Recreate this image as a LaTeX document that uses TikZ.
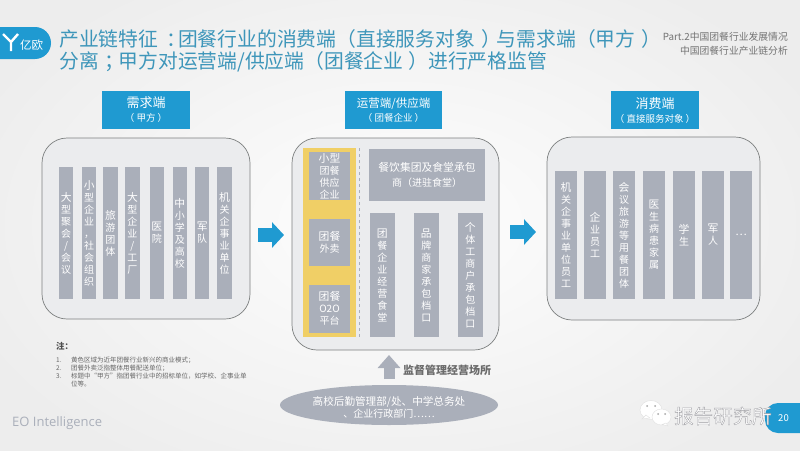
\documentclass[tikz,border=0pt]{standalone}
\usepackage{fontspec}
\usepackage{xcolor}
\usepackage{tikz}
\usetikzlibrary{arrows.meta,positioning,shapes.geometric}
\setmainfont{Noto Sans CJK SC}
\newfontfamily\latinfont{Open Sans}
\definecolor{brandblue}{RGB}{31,154,209}
\definecolor{titleblue}{RGB}{62,150,186}
\definecolor{barfill}{RGB}{170,175,186}
\definecolor{panelfill}{RGB}{235,236,238}
\definecolor{panelline}{RGB}{125,128,128}
\definecolor{newmodel}{RGB}{240,207,102}
\newcommand{\headsub}{\fontsize{9.5}{12}\selectfont}
\newcommand{\cellfont}{\fontsize{10.8}{11.7}\selectfont}

\begin{document}
\begin{tikzpicture}[x=1pt, y=-1pt,
    header/.style={fill=brandblue, text=white, inner sep=0pt, outer sep=0pt, minimum height=38pt, align=center},
    panel/.style={draw=panelline, line width=0.7pt, fill=panelfill, rounded corners=25pt, inner sep=0pt, outer sep=0pt},
    cell/.style={fill=barfill, text=white, inner sep=0pt, outer sep=0pt, align=center},
    barA/.style={cell, minimum width=14.4pt, minimum height=132pt},
    barB/.style={cell, minimum width=24.5pt, minimum height=124pt},
    barC/.style={cell, minimum width=22pt, minimum height=128pt},
    sidebox/.style={cell, minimum width=41pt, minimum height=47.5pt},
    bigarrow/.style={brandblue, line width=14pt, -{Triangle[width=25pt,length=12pt]}}]
  \useasboundingbox (0,0) rectangle (800,450);
  \clip (0,0) rectangle (800,450);
  \shade[inner color=white!60!gray!2, outer color=gray!14!white] (-60,-60) rectangle (860,510);

  \node[header, minimum width=71pt, rounded corners=16pt, minimum height=32pt] (logo) at (15.5,43) {};
  \draw[white, line width=2.4pt] (3,34) -- (11,42) -- (18,34) (11,42) -- (11,51);
  \node[text=white, inner sep=0pt, font=\fontsize{11.5}{12}\selectfont, anchor=west] (logotext) at (20,45) {亿欧};

  \node[text=titleblue, inner sep=0pt, anchor=north west, align=left, font=\fontsize{19.8}{22}\selectfont]
    (title) at (59,29) {产业链特征\kern8pt：\kern-8pt团餐行业的消费端（直接服务对象\kern7pt）\kern-5pt与需求端（甲方\kern6pt）\\分离\kern6pt；\kern-6pt甲方对运营端/供应端（团餐企业\kern5pt）进行严格监管};
  \node[text=black!55, inner sep=0pt, anchor=east, align=right, font=\fontsize{9.8}{14}\selectfont]
    (part) at (788,44) {Part.2中国团餐行业发展情况\\中国团餐行业产业链分析};

  \node[header, minimum width=88pt] (demandhead) at (146,110)
    {\fontsize{13}{17}\selectfont 需求端\\[2pt]{\headsub（ 甲方 ）}};
  \node[header, minimum width=97pt] (opshead) at (393.5,110)
    {\fontsize{11.5}{17}\selectfont 运营端/供应端\\[2pt]{\headsub（ 团餐企业 ）}};
  \node[header, minimum width=88pt] (consumerhead) at (655,110)
    {\fontsize{13}{17}\selectfont 消费端\\[2pt]{\headsub（ 直接服务对象 ）}};

  \node[panel, minimum width=208pt, minimum height=181pt] (demand) at (146,228.5) {};
  \node[panel, minimum width=207pt, minimum height=212pt] (ops) at (395.5,244) {};
  \node[panel, minimum width=213pt, minimum height=183pt] (consumer) at (653.5,228.5) {};

  \node[barA, anchor=west] (d1) at (59,233) {\cellfont 大\\型\\聚\\会\\/\\会\\议};
  \node[barA, right=8.6pt of d1] (d2) {\cellfont 小\\型\\企\\业\\，\\社\\会\\组\\织};
  \node[barA, right=6.8pt of d2] (d3) {\cellfont 旅\\游\\团\\体};
  \node[barA, right=7.6pt of d3] (d4) {\cellfont 大\\型\\企\\业\\/\\工\\厂};
  \node[barA, right=10pt of d4] (d5) {\cellfont 医\\院};
  \node[barA, right=8.6pt of d5] (d6) {\cellfont 中\\小\\学\\及\\高\\校};
  \node[barA, right=8pt of d6] (d7) {\cellfont 军\\队};
  \node[barA, right=8pt of d7] (d8) {\cellfont 机\\关\\企\\事\\业\\单\\位};

  \node[fill=newmodel, inner sep=0pt, outer sep=0pt, minimum width=53pt, minimum height=189pt] (band) at (329.5,242.5) {};
  \node[sidebox, below=4pt of band.north] (supply) {\cellfont 小型\\团餐\\供应\\企业};
  \node[sidebox, below=19pt of supply] (delivery) {\cellfont 团餐\\外卖};
  \node[sidebox, below=19pt of delivery] (otwoo) {\cellfont 团餐\\O2O\\平台};
  \draw[dashed, barfill, line width=0.6pt] ([xshift=3pt]band.north east) -- ([xshift=3pt]band.south east);

  \node[cell, minimum width=116pt, minimum height=52pt] (group) at (427,175) {\cellfont 餐饮集团及食堂承包\\[3pt]商（进驻食堂）};
  \node[barB, below right=12pt and 1pt of group.south west] (canteen) {\cellfont 团\\餐\\企\\业\\经\\营\\食\\堂};
  \node[barB, right=19.5pt of canteen] (brand) {\cellfont 品\\牌\\商\\家\\承\\包\\档\\口};
  \node[barB, right=19.5pt of brand] (stall) {\cellfont 个\\体\\工\\商\\户\\承\\包\\档\\口};

  \node[barC, anchor=west] (c1) at (555,235) {\cellfont 机\\关\\企\\事\\业\\单\\位\\员\\工};
  \node[barC, right=7pt of c1] (c2) {\cellfont 企\\业\\员\\工};
  \node[barC, right=7pt of c2] (c3) {\cellfont 会\\议\\旅\\游\\等\\用\\餐\\团\\体};
  \node[barC, right=8pt of c3] (c4) {\cellfont 医\\生\\病\\患\\家\\属};
  \node[barC, right=8pt of c4] (c5) {\cellfont 学\\生};
  \node[barC, right=7pt of c5] (c6) {\cellfont 军\\人};
  \node[barC, right=6pt of c6] (c7) {\cellfont …};

  \draw[bigarrow, shorten <=8pt, shorten >=8pt] ([yshift=-6.5pt]demand.east) -- ([yshift=9pt]ops.west);
  \draw[bigarrow, shorten <=11pt, shorten >=11pt] ([yshift=12pt]ops.east) -- ([yshift=-3.5pt]consumer.west);

  \node[ellipse, fill=barfill, text=white, inner sep=0pt, outer sep=0pt, minimum width=218pt, minimum height=40pt, align=center]
    (office) at (389,405) {\fontsize{10.6}{13}\selectfont\rule{0pt}{13pt}高校后勤管理部/处、中学总务处\\、企业行政部门……};
  \draw[barfill, line width=11pt, -{Triangle[width=22pt,length=13pt]}, shorten <=6pt, shorten >=5pt]
    (office.north) -- ([xshift=-6.5pt]ops.south);
  \node[text=black!58, inner sep=0pt, anchor=west, font=\bfseries\fontsize{11}{12}\selectfont] (watch) at (403,370) {监督管理经营场所};

  \node[text=black!70, inner sep=0pt, anchor=west, font=\bfseries\fontsize{8.5}{10}\selectfont] (notehead) at (56,346) {注：};
  \node[text=black!60, inner sep=0pt, anchor=north west, font=\fontsize{6.5}{8}\selectfont] (notes) at (56,357)
    {\begin{tabular}{@{}p{15pt}@{}l@{}}
      1. & 黄色区域为近年团餐行业新兴的商业模式；\\
      2. & 团餐外卖泛指整体用餐配送单位；\\
      3. & 标题中“甲方”指团餐行业中的招标单位，如学校、企事业单\\
         & 位等。
    \end{tabular}};
  \node[text=barfill, inner sep=0pt, anchor=west, font=\latinfont\fontsize{13}{15}\selectfont] (eo) at (12,423) {EO Intelligence};

  \node[header, minimum width=70pt, minimum height=30pt, rounded corners=13pt] (badge) at (800,418) {};
  \node[text=white, inner sep=0pt, font=\fontsize{9.5}{11}\selectfont] (pagenum) at (783.5,418.5) {20};

  \fill[white, draw=black!12] (651,410) ellipse (11 and 9.5);
  \fill[white, draw=black!12] (642,419) -- (646,415) -- (650,418) -- cycle;
  \fill[white, draw=black!12] (661.5,417) ellipse (9.5 and 8);
  \fill[white, draw=black!12] (666,423) -- (668,426) -- (662,424.5) -- cycle;
  \fill[black!35] (647,406) circle (1) (655,406) circle (1) (658,414) circle (1) (665,414) circle (1);
  \node[text=white, inner sep=0pt, anchor=west, font=\fontsize{19.5}{22}\selectfont] (mark) at (674,416)
    {\special{pdf:code q 2 Tr 0.35 w 0.62 0.62 0.64 RG}报告研究所\special{pdf:code Q}};
\end{tikzpicture}
\end{document}
